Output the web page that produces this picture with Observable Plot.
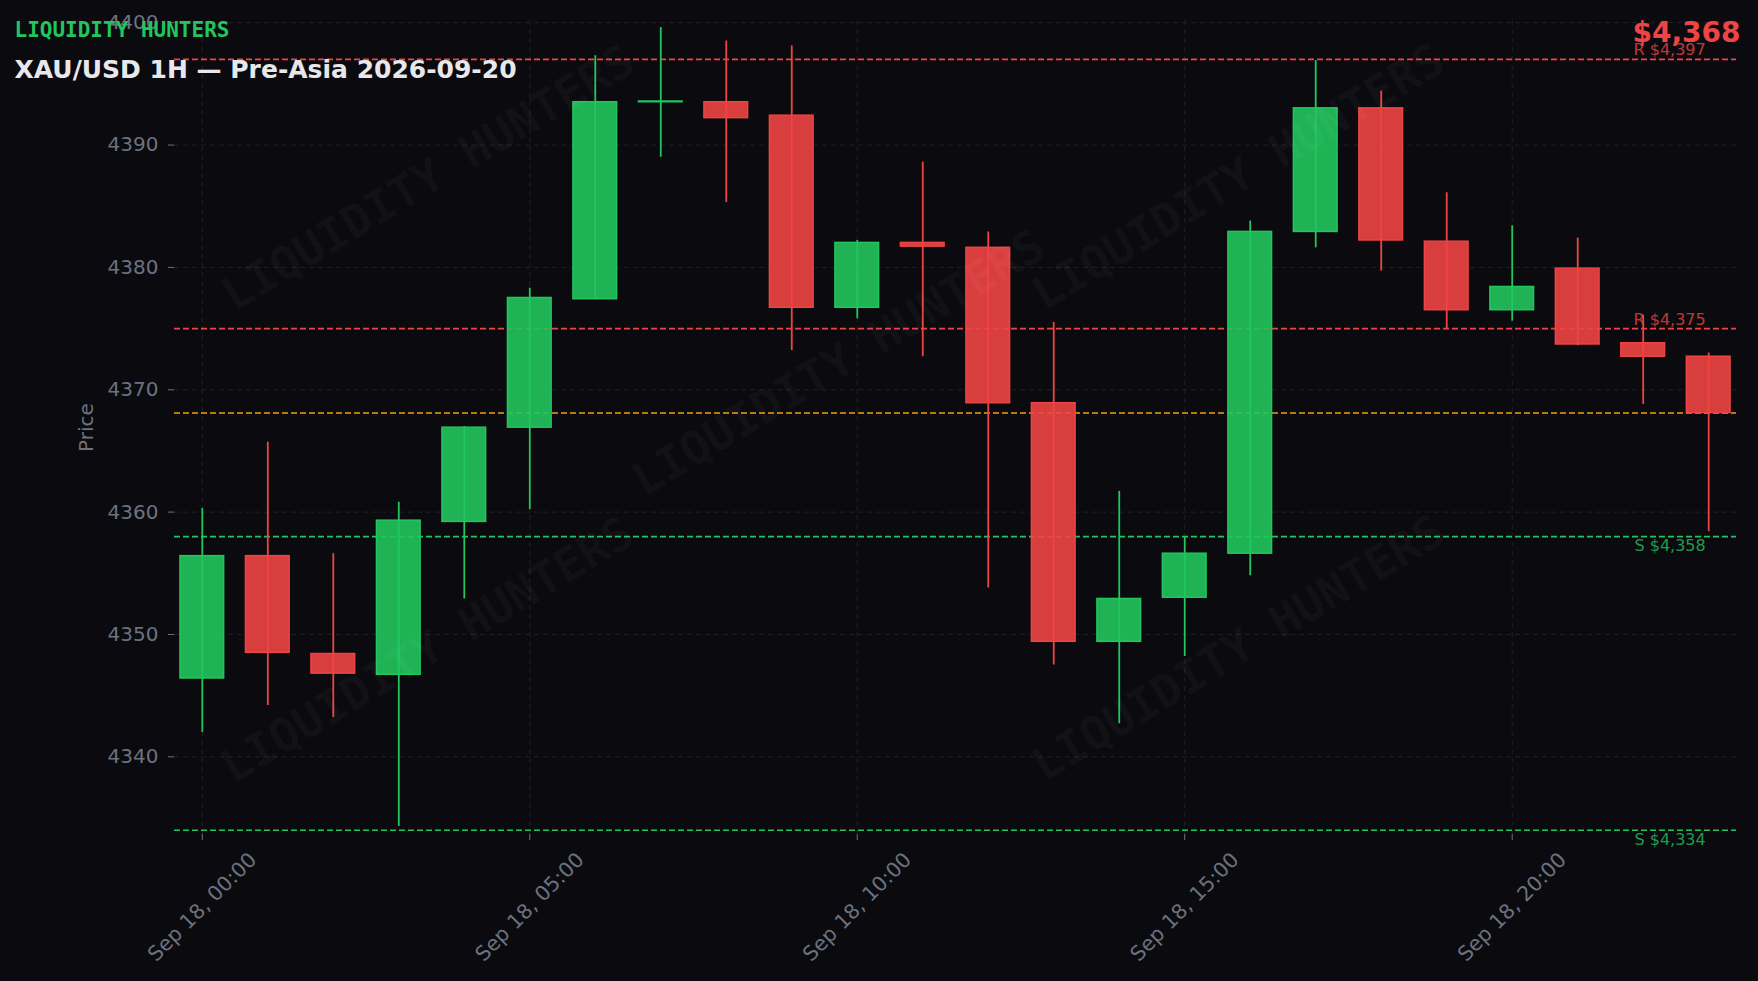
<!DOCTYPE html>
<html>
<head>
<meta charset="utf-8">
<script src="https://cdn.jsdelivr.net/npm/d3@7"></script>
<script src="https://cdn.jsdelivr.net/npm/@observablehq/plot@0.6"></script>
<style>
  html, body { margin: 0; padding: 0; background: #0b0b0f; }
  #chart { width: 1758px; height: 981px; }
</style>
</head>
<body>
<div id="chart"></div>
<script>
// ---- data ----
const hours  = [0,1,2,3,4,5,6,7,8,9,10,11,12,13,14,15,16,17,18,19,20,21,22,23];
const opens  = [4346.4,4356.4,4348.4,4346.7,4359.2,4366.9,4377.4,4393.5,4393.5,4392.4,4376.7,4382.0,4381.6,4368.9,4349.4,4353.0,4356.6,4382.9,4393.0,4382.1,4376.5,4379.9,4373.8,4372.7];
const highs  = [4360.3,4365.7,4356.6,4360.8,4367.0,4378.3,4397.3,4399.6,4398.5,4398.1,4382.2,4388.6,4382.9,4375.5,4361.7,4358.0,4383.8,4396.9,4394.4,4386.1,4383.4,4382.4,4376.1,4373.0];
const lows   = [4342.0,4344.2,4343.2,4334.3,4352.9,4360.2,4377.4,4389.0,4385.3,4373.2,4375.8,4372.7,4353.8,4347.5,4342.7,4348.2,4354.8,4381.6,4379.7,4375.0,4375.6,4373.6,4368.8,4358.4];
const closes = [4356.4,4348.5,4346.8,4359.3,4366.9,4377.5,4393.5,4393.56,4392.2,4376.7,4382.0,4381.7,4368.9,4349.4,4352.9,4356.6,4382.9,4393.0,4382.2,4376.5,4378.4,4373.7,4372.7,4368.1];

const resistanceLevels = [4397, 4375];
const supportLevels    = [4358, 4334];

const yTicks     = [4340, 4350, 4360, 4370, 4380, 4390, 4400];
const xTickHours = [0, 5, 10, 15, 20];

const brand = "LIQUIDITY HUNTERS";
const title = "XAU/USD 1H \u2014 Pre-Asia 2026-09-20";

// ---- build ----
const H = 3600000;
const base = Date.UTC(2026, 8, 18, 0, 0);
const candles = hours.map((h, i) => ({
  t: new Date(base + h * H),
  open: opens[i], high: highs[i], low: lows[i], close: closes[i]
}));
const lastClose = closes[closes.length - 1];
const lastDate = candles[candles.length - 1].t;
const xTicks = xTickHours.map(h => new Date(base + h * H));

const GREEN = "#22c55e", RED = "#ef4444", ORANGE = "#f59e0b";
const GRAY = "#6b7280", GRID = "#1e2029", BG = "#0b0b0f";
const fmt = d3.format(",.0f");
const xFmt = d3.utcFormat("%b %d, %H:%M");
const halfBody = 20 * 60000;

const up = d => d.close >= d.open;
const down = d => d.close < d.open;

// watermark centres (pixel offsets relative to the frame's top-left)
const watermarks = [[254, 158], [1064, 157], [664, 343], [253, 630], [1064, 628]];

const marks = [
  Plot.gridY(yTicks, {stroke: GRID, strokeOpacity: 1, strokeDasharray: "5,4"}),
  Plot.gridX(xTicks, {stroke: GRID, strokeOpacity: 1, strokeDasharray: "5,4"}),
  Plot.axisY(yTicks, {tickSize: 6, tickPadding: 10, fontSize: 20, color: GRAY, label: null, tickFormat: d3.format("d")}),
  Plot.axisX(xTicks, {tickSize: 6, tickFormat: () => "", color: GRAY, label: null}),
  Plot.text(xTicks, {x: d => d, text: d => xFmt(d), frameAnchor: "bottom", dy: 72.6, rotate: -45,
    textAnchor: "middle", lineAnchor: "middle", fontSize: 20.5, fill: GRAY}),
  Plot.text(["Price"], {text: d => d, frameAnchor: "left", dx: -88, rotate: -90,
    textAnchor: "middle", lineAnchor: "middle", fontSize: 20, fill: GRAY}),

  // level lines
  Plot.ruleY(resistanceLevels, {y: d => d, stroke: RED, strokeWidth: 1.6, strokeDasharray: "6,3"}),
  Plot.ruleY(supportLevels, {y: d => d, stroke: GREEN, strokeWidth: 1.6, strokeDasharray: "6,3"}),
  Plot.ruleY([lastClose], {y: d => d, stroke: ORANGE, strokeWidth: 1.6, strokeDasharray: "6,3"}),

  // candles
  Plot.ruleX(candles.filter(up), {x: "t", y1: "low", y2: "high", stroke: GREEN, strokeWidth: 1.8}),
  Plot.ruleX(candles.filter(down), {x: "t", y1: "low", y2: "high", stroke: RED, strokeWidth: 1.8}),
  Plot.rect(candles.filter(up), {x1: d => new Date(+d.t - halfBody), x2: d => new Date(+d.t + halfBody),
    y1: "open", y2: "close", fill: GREEN, fillOpacity: 0.9, stroke: GREEN, strokeWidth: 1.5}),
  Plot.rect(candles.filter(down), {x1: d => new Date(+d.t - halfBody), x2: d => new Date(+d.t + halfBody),
    y1: "open", y2: "close", fill: RED, fillOpacity: 0.9, stroke: RED, strokeWidth: 1.5}),

  // level labels
  Plot.text(resistanceLevels, {x: () => lastDate, y: d => d, text: d => `R $${fmt(d)}`,
    textAnchor: "end", lineAnchor: "bottom", dx: -3, dy: -4, fontSize: 16, fill: RED, fillOpacity: 0.8}),
  Plot.text(supportLevels, {x: () => lastDate, y: d => d, text: d => `S $${fmt(d)}`,
    textAnchor: "end", lineAnchor: "top", dx: -3, dy: 3, fontSize: 16, fill: GREEN, fillOpacity: 0.8}),
];

// watermarks (drawn on top, very faint)
for (const [dx, dy] of watermarks) {
  marks.push(Plot.text([brand], {text: d => d, frameAnchor: "top-left", dx, dy, rotate: -31,
    textAnchor: "middle", lineAnchor: "middle", fontSize: 46, fontFamily: "DejaVu Sans Mono",
    fontWeight: "bold", fill: "#ffffff", fillOpacity: 0.035}));
}

// headline texts
marks.push(
  Plot.text([lastClose], {text: d => `$${fmt(d)}`, frameAnchor: "top-right", textAnchor: "end",
    lineAnchor: "bottom", dx: 4, dy: 21, fontSize: 28, fontWeight: "bold", fill: RED}),
  Plot.text([brand], {text: d => d, frameAnchor: "top-left", textAnchor: "start", lineAnchor: "bottom",
    dx: -160, dy: 16.7, fontSize: 21, fontFamily: "DejaVu Sans Mono", fontWeight: "bold", fill: GREEN}),
  Plot.text([title], {text: d => d, frameAnchor: "top-left", textAnchor: "start", lineAnchor: "bottom",
    dx: -160, dy: 57.3, fontSize: 25, fontWeight: "bold", fill: "#e8e8ec"})
);

const chart = Plot.plot({
  width: 1758,
  height: 981,
  marginLeft: 174,
  marginRight: 22,
  marginTop: 20,
  marginBottom: 147,
  x: {type: "utc", domain: [new Date(base - 0.4245 * H), new Date(base + 23.4245 * H)]},
  y: {domain: [4333.65, 4400.18]},
  style: {background: BG, color: GRAY, fontFamily: "DejaVu Sans", fontSize: "20px", overflow: "visible"},
  marks
});
document.getElementById("chart").append(chart);
</script>
</body>
</html>
